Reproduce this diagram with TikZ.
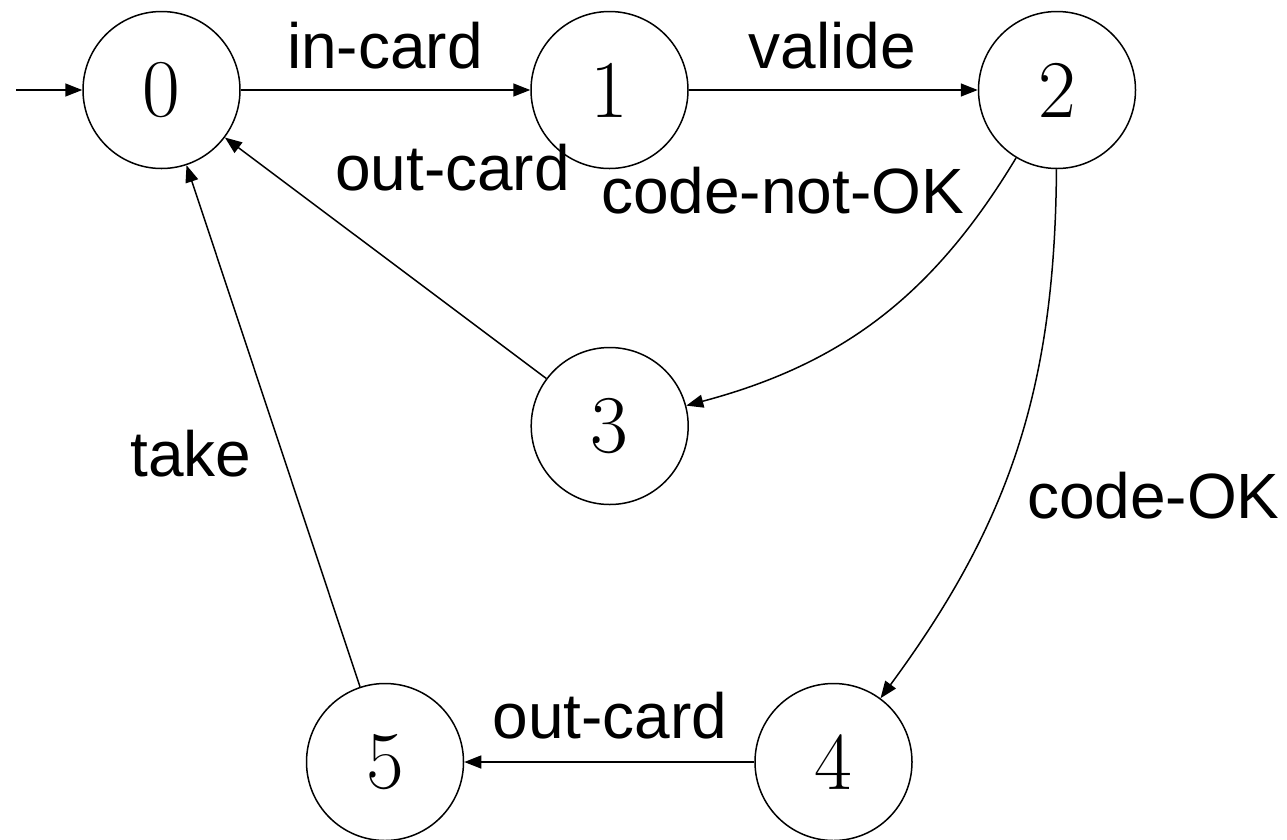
\documentclass[tikz,border=0pt]{standalone}
\usepackage{fontspec}
\newfontfamily\lblfont{Liberation Sans}
\usetikzlibrary{arrows.meta}
\begin{document}
\begin{tikzpicture}[x=1pt,y=1pt,
  state/.style={draw,circle,line width=1.5pt,minimum size=157pt,inner sep=0pt,
    font=\fontsize{82}{90}\selectfont},
  lbl/.style={anchor=base,inner sep=0pt,font=\lblfont\fontsize{64}{70}\selectfont},
  arc/.style={line width=1.5pt,-{Triangle[length=17pt,width=13pt]}}]
\useasboundingbox (0,0) rectangle (1287,-839);
\node[state] (s0) at (161.5,-90) {0};
\node[state] (s1) at (609.5,-90) {1};
\node[state] (s2) at (1057,-90) {2};
\node[state] (s3) at (609.7,-426) {3};
\node[state] (s4) at (833.5,-762) {4};
\node[state] (s5) at (385,-762) {5};
\coordinate (init) at (16,-90);
\draw[arc] (init) -- (s0);
\draw[arc] (s0) -- (s1);
\draw[arc] (s1) -- (s2);
\draw[arc] (s2) to[bend left=22] (s3);
\draw[arc] (s2) to[bend left=18] (s4);
\draw[arc] (s3) -- (s0);
\draw[arc] (s4) -- (s5);
\draw[arc] (s5) -- (s0);
\node[lbl] (l01) at (385,-68) {in-card};
\node[lbl] (l12) at (832.5,-68.3) {valide};
\node[lbl] (l30) at (452.5,-190.7) {out-card};
\node[lbl] (l23) at (782.5,-213.3) {code-not-OK};
\node[lbl] (l24) at (1153.3,-518) {code-OK};
\node[lbl] (l50) at (191,-476) {take};
\node[lbl] (l45) at (610,-738.3) {out-card};
\end{tikzpicture}
\end{document}
